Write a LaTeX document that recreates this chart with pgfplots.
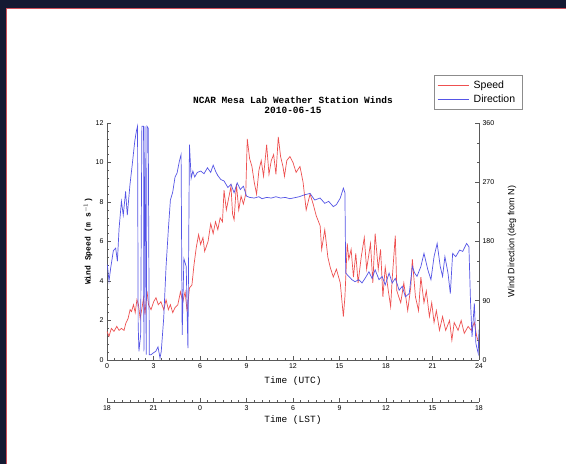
\documentclass[border=0pt]{standalone}
\usepackage{fontspec}
\setmainfont{Liberation Sans}
\newfontfamily\hershey{Liberation Mono}
\usepackage{pgfplots}
\pgfplotsset{compat=1.18}
\usepackage{pgfplotstable}

\definecolor{spd}{RGB}{238,80,80}
\definecolor{dir}{RGB}{85,85,230}
\definecolor{navyband}{RGB}{20,26,50}
\definecolor{framered}{RGB}{205,80,90}

\pgfplotstableread{
h v
0.00 1.45
0.13 1.2
0.28 1.6
0.45 1.45
0.63 1.7
0.78 1.5
0.93 1.6
1.10 1.5
1.21 1.85
1.36 2.1
1.49 2.55
1.58 2.45
1.71 2.8
1.82 2.4
1.93 3.05
2.03 2.8
2.14 2.1
2.25 2.6
2.36 3.15
2.45 2.3
2.58 3.5
2.68 2.8
2.84 2.55
3.01 2.95
3.16 3.15
3.31 2.8
3.48 2.95
3.66 2.55
3.81 3.05
3.96 2.55
4.09 2.8
4.24 2.4
4.39 2.65
4.57 2.8
4.74 3.45
4.89 2.95
5.04 3.45
5.17 2.45
5.32 3.65
5.48 3.8
5.61 4.8
5.76 5.7
5.91 6.35
6.04 5.85
6.19 6.2
6.30 5.5
6.52 6.0
6.69 6.9
6.85 6.4
7.00 7.0
7.15 6.6
7.30 7.2
7.45 7.0
7.55 8.6
7.70 7.6
7.85 8.2
8.00 8.8
8.10 7.4
8.20 7.1
8.35 8.9
8.50 7.6
8.65 8.3
8.80 7.9
8.95 8.4
9.05 11.2
9.20 10.2
9.35 9.8
9.50 9.0
9.65 8.4
9.80 9.6
9.95 10.1
10.10 9.3
10.30 10.9
10.45 9.4
10.60 10.1
10.75 10.4
10.90 9.4
11.05 11.3
11.20 10.3
11.35 9.8
11.45 9.3
11.60 10.1
11.80 10.3
12.00 10.0
12.20 9.5
12.45 9.8
12.65 9.0
12.85 7.6
13.10 8.4
13.30 7.9
13.50 7.3
13.75 6.8
13.85 5.6
14.05 6.6
14.25 5.2
14.40 4.7
14.60 4.2
14.80 4.6
15.05 3.9
15.25 2.2
15.35 3.2
15.50 5.9
15.60 5.1
15.75 5.6
15.90 4.2
16.05 5.4
16.20 3.9
16.40 5.2
16.60 6.2
16.75 4.6
17.00 5.9
17.15 3.9
17.30 6.4
17.50 4.6
17.65 5.6
17.80 3.2
17.95 4.7
18.15 3.5
18.30 2.7
18.40 4.1
18.60 6.3
18.70 3.5
18.95 2.9
19.15 3.9
19.40 2.5
19.60 3.7
19.70 5.1
19.90 3.2
20.10 2.5
20.25 4.2
20.45 2.9
20.60 3.5
20.80 2.2
20.95 2.9
21.10 1.9
21.25 2.5
21.45 1.5
21.65 2.2
21.85 1.5
22.10 2.0
22.25 1.0
22.40 1.9
22.65 1.5
22.85 2.0
23.05 1.35
23.30 1.7
23.50 1.5
23.70 1.9
23.85 1.2
24.00 0.85
}\speedtab

\pgfplotstableread{
h d
0.02 145
0.13 120
0.24 140
0.41 166
0.56 170
0.67 150
0.78 200
0.93 241
1.05 220
1.20 256
1.31 220
1.48 266
1.63 297
1.79 332
1.89 347
1.97 355
2.01 54
2.06 13
2.17 38
2.25 355
2.36 355
2.38 13
2.45 355
2.53 8
2.58 355
2.66 352
2.73 8
2.84 8
3.00 11
3.14 13
3.29 20
3.42 3
3.50 13
3.66 64
3.81 142
3.96 199
4.09 243
4.24 255
4.39 278
4.52 284
4.67 302
4.78 312
4.85 38
4.96 154
5.11 142
5.22 18
5.32 327
5.43 276
5.54 287
5.66 278
5.83 285
6.05 287
6.26 283
6.48 292
6.69 285
6.85 296
7.00 287
7.15 280
7.35 274
7.55 272
7.80 262
8.00 267
8.20 254
8.40 269
8.60 259
8.80 264
9.00 249
9.20 247
9.50 246
9.80 248
10.00 245
10.30 247
10.60 246
10.90 248
11.20 246
11.50 247
11.80 245
12.00 246
12.40 248
12.75 251
13.10 253
13.40 243
13.75 246
14.05 238
14.30 241
14.60 233
14.80 236
15.05 246
15.25 261
15.35 254
15.40 132
15.60 127
15.80 122
16.00 119
16.25 122
16.45 117
16.65 124
16.90 134
17.10 124
17.30 137
17.55 122
17.75 127
17.95 114
18.20 132
18.40 117
18.60 124
18.85 106
19.05 112
19.25 96
19.50 101
19.70 142
19.85 132
20.00 127
20.25 142
20.45 162
20.70 137
20.90 122
21.10 157
21.30 177
21.50 142
21.65 127
21.80 157
22.00 132
22.15 101
22.30 162
22.50 157
22.75 167
22.95 165
23.20 177
23.35 172
23.45 91
23.55 35
23.70 86
23.80 25
23.95 10
24.00 46
}\dirtab

\begin{document}
\begin{tikzpicture}[x=1pt,y=1pt]
\fill[navyband] (0,0) rectangle (566,464);
\fill[white] (6,0) rectangle (566,456);
\draw[framered, line width=1.1pt] (6.6,0) -- (6.6,455.4) -- (566,455.4);

\pgfplotsset{
  every axis/.append style={
    scale only axis, width=372pt, height=237pt,
    xmin=0, xmax=24,
    font=\fontsize{7}{8}\selectfont,
    /pgf/number format/assume math mode=true,
    axis line style={black!65, line width=0.6pt},
    every tick/.style={black!65, line width=0.5pt},
    major tick length=4pt, minor tick length=2pt,
    tick align=inside,
  },
}

% main axis: speed
\begin{axis}[
  at={(107pt,104pt)}, anchor=south west,
  ymin=0, ymax=12,
  axis x line*=bottom, axis y line*=left,
  xtick={0,3,...,24}, minor x tick num=5,
  ytick={0,2,...,12}, minor y tick num=4,
  xlabel={\hershey\fontsize{9.5}{10}\selectfont Time (UTC)},
  every axis x label/.style={at={(axis description cs:0.5,0)}, yshift=-21pt, anchor=center},
  ylabel={\hershey\bfseries\fontsize{8}{9}\selectfont Wind Speed (m s$^{-1}$)},
  every axis y label/.style={at={(axis description cs:0,0.5)}, xshift=-19pt, rotate=90, anchor=center},
  legend style={at={(axis description cs:0.879,1.2025)}, anchor=north west,
    draw=black!45, line width=0.6pt, font=\fontsize{10.5}{12}\selectfont,
    inner xsep=3pt, inner ysep=3.5pt,
    row sep=1pt, cells={anchor=west},
    nodes={inner xsep=4.5pt}},
  legend image code/.code={\draw[#1, line width=0.9pt] (0pt,0pt) -- (31pt,0pt);},
]
\addplot[spd, line width=0.7pt] table[x=h, y=v] {\speedtab};
\addlegendentry{Speed}
\addlegendimage{dir, line width=0.7pt}
\addlegendentry{Direction}
\end{axis}

% right axis: direction
\begin{axis}[
  at={(107pt,104pt)}, anchor=south west,
  ymin=0, ymax=360,
  axis x line=none, axis y line*=right,
  ytick={0,90,...,360}, minor y tick num=2,
  ylabel={\fontsize{9}{10}\selectfont Wind Direction (deg from N)},
  every axis y label/.style={at={(axis description cs:1,0.5)}, xshift=33pt, rotate=90, anchor=center},
]
\addplot[dir, line width=0.7pt] table[x=h, y=d] {\dirtab};
\end{axis}

% LST axis
\begin{axis}[
  at={(107pt,62pt)}, anchor=south west,
  height=8pt, ymin=0, ymax=1,
  axis x line*=bottom, axis y line=none,
  xtick={0,3,...,24}, minor x tick num=5,
  xticklabels={18,21,0,3,6,9,12,15,18},
  xlabel={\hershey\fontsize{9.5}{10}\selectfont Time (LST)},
  every axis x label/.style={at={(axis description cs:0.5,0)}, yshift=-18pt, anchor=center},
]
\addplot[draw=none] coordinates {(0,0) (24,1)};
\end{axis}

\node[font=\hershey\bfseries\fontsize{9.5}{10}\selectfont, align=center] at (293,364) {NCAR Mesa Lab Weather Station Winds};
\node[font=\hershey\bfseries\fontsize{9.5}{10}\selectfont, align=center] at (293,354) {2010-06-15};

\pgfresetboundingbox
\useasboundingbox (0,0) rectangle (566,464);
\end{tikzpicture}
\end{document}
